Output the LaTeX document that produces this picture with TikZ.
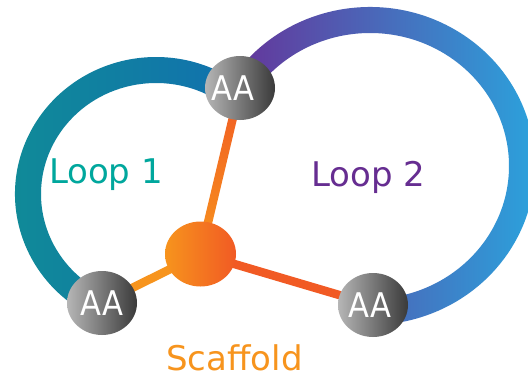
\documentclass[tikz,border=0pt]{standalone}
\usepackage{fontspec}
\setmainfont{DejaVu Sans}
\newfontfamily\aafont{DejaVu Sans Condensed}
\usetikzlibrary{calc,shapes.geometric,backgrounds}
\definecolor{loopAa}{RGB}{16,140,150}
\definecolor{loopAb}{RGB}{17,112,175}
\definecolor{loopBa}{RGB}{102,51,153}
\definecolor{loopBb}{RGB}{39,170,225}
\definecolor{txtA}{RGB}{0,167,157}
\definecolor{txtB}{RGB}{102,45,145}
\definecolor{orL}{RGB}{247,148,29}
\definecolor{orD}{RGB}{241,90,36}
\definecolor{grL}{RGB}{182,182,182}
\definecolor{grD}{RGB}{58,58,58}
\tikzset{
  aa/.style={ellipse, minimum width=70pt, minimum height=64pt, inner sep=0pt,
    left color=grL, right color=grD, text=white,
    font=\aafont\fontsize{34}{40}\selectfont},
  core/.style={ellipse, minimum width=71pt, minimum height=65pt, inner sep=0pt,
    left color=orL, right color=orD},
  oline/.style={line width=8.5pt},
  lbl/.style={anchor=base, font=\fontsize{34}{40}\selectfont, inner sep=0pt}
}
\begin{document}
\begin{tikzpicture}[x=1pt,y=1pt]
\useasboundingbox (0,0) rectangle (528,376);
\coordinate (c1) at (156,182);
\coordinate (c2) at (370,210);
\node[aa] (aat) at (240,288) {\kern-14pt AA};
\node[aa] (aal) at (102,73) {AA};
\node[aa] (aar) at (373,71) {\kern-6pt AA};
\node[core] (core) at (200.5,122) {};
\node[lbl, text=txtA] (l1) at (106,193) {Loop 1};
\node[lbl, text=txtB] (l2) at (368.5,190) {Loop 2};
\node[lbl, text=orL] (sc) at (234.5,6) {Scaffold};
\begin{pgfonlayer}{background}
\fill[white] (0,0) rectangle (528,376);
% Loop 1 band
\shade[left color=loopAa, right color=loopAb]
  ([shift={(245:141pt and 137pt)}]c1) arc[start angle=245,end angle=52,x radius=141pt,y radius=137pt]
  -- ([shift={(52:115pt and 111pt)}]c1) arc[start angle=52,end angle=245,x radius=115pt,y radius=111pt]
  -- cycle;
% Loop 2 band
\shade[left color=loopBa, right color=loopBb]
  ([shift={(148:165pt and 159pt)}]c2) arc[start angle=148,end angle=-88,x radius=165pt,y radius=159pt]
  -- ([shift={(-88:139pt and 133pt)}]c2) arc[start angle=-88,end angle=148,x radius=139pt,y radius=133pt]
  -- cycle;
% scaffold connectors
\draw[oline, orL] (core.center) -- (aal.center);
\draw[oline, orD] (core.center) -- (aar.center);
\shade[bottom color=orL, top color=orD]
  ($(core.center)!4.25pt!90:(aat.center)$) -- ($(aat.center)!4.25pt!-90:(core.center)$)
  -- ($(aat.center)!4.25pt!90:(core.center)$) -- ($(core.center)!4.25pt!-90:(aat.center)$) -- cycle;
\end{pgfonlayer}
\end{tikzpicture}
\end{document}
